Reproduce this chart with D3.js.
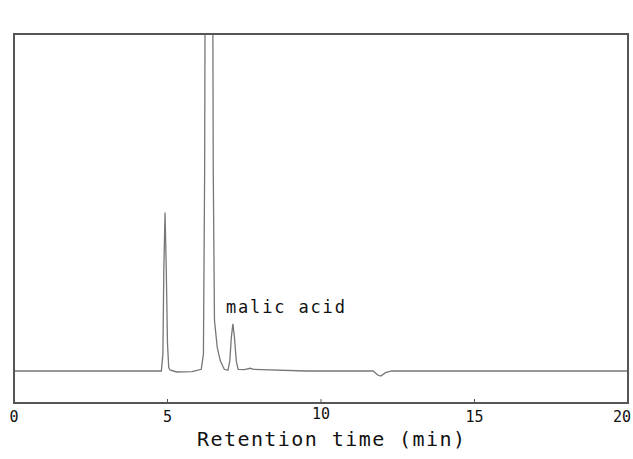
<!DOCTYPE html>
<html>
<head>
<meta charset="utf-8">
<script src="https://cdn.jsdelivr.net/npm/d3@7"></script>
<style>
  body { margin: 0; background: #fff; }
  svg { display: block; }
  .frame { fill: none; stroke: #555; stroke-width: 2; }
  .trace { fill: none; stroke: #777; stroke-width: 1.3; }
  .tick-label { font-family: "DejaVu Sans Mono", monospace; font-size: 15px; fill: #111; }
  .title { font-family: "DejaVu Sans Mono", monospace; font-size: 20px; fill: #111; }
  .peak-label { font-family: "DejaVu Sans Mono", monospace; font-size: 17px; fill: #111; }
</style>
</head>
<body>
<svg id="chart" width="633" height="459"></svg>
<script>
// retention time (min) and detector response (arbitrary units)
const times = [0, 4.80, 4.85, 4.88, 4.92, 4.96, 5.00, 5.04, 5.08, 5.30, 5.80, 6.10, 6.17, 6.21, 6.25,
  6.45, 6.49, 6.53, 6.62, 6.72, 6.85, 6.97, 7.03, 7.08, 7.13, 7.18, 7.24, 7.30, 7.50, 7.70, 7.80,
  9.50, 11.70, 11.85, 11.95, 12.10, 12.30, 20]
const response = [0, 0, 5, 30, 47, 30, 8, 1, 0.3, -0.3, -0.2, 0.5, 5, 60, 200,
  200, 60, 15, 7, 3, 0.5, 0.2, 3, 10, 14, 10, 3, 0.5, 0.4, 0.8, 0.5,
  0, 0, -1.2, -1.5, -0.5, 0, 0]
const xTicks = [0, 5, 10, 15, 20]
const peakName = 'malic acid'
const peakTime = 7.13
const axisTitle = 'Retention time (min)'

const svg = d3.select('#chart')
const box = { left: 14, right: 628, top: 34, bottom: 403 }

const x = d3.scaleLinear().domain([0, 20]).range([box.left, box.right])
const y = d3.scaleLinear().domain([-9.5, 100]).range([box.bottom, box.top])

svg.append('clipPath').attr('id', 'plot-clip')
  .append('rect')
  .attr('x', box.left).attr('y', box.top)
  .attr('width', box.right - box.left).attr('height', box.bottom - box.top)

const data = times.map((t, i) => [t, response[i]])
const line = d3.line().x(d => x(d[0])).y(d => y(d[1]))

svg.append('path')
  .datum(data)
  .attr('class', 'trace')
  .attr('clip-path', 'url(#plot-clip)')
  .attr('d', line)

svg.append('rect')
  .attr('class', 'frame')
  .attr('x', box.left).attr('y', box.top)
  .attr('width', box.right - box.left).attr('height', box.bottom - box.top)

// small inner ticks on the bottom edge
svg.selectAll('.tick-mark')
  .data(xTicks.slice(1, -1))
  .join('line')
  .attr('x1', d => x(d)).attr('x2', d => x(d))
  .attr('y1', box.bottom).attr('y2', box.bottom - 4)
  .attr('stroke', '#555').attr('stroke-width', 1)

svg.selectAll('.tick-label')
  .data(xTicks)
  .join('text')
  .attr('class', 'tick-label')
  .attr('x', d => d === 20 ? x(d) - 6 : x(d))
  .attr('y', d => d === 10 ? 419 : 422)
  .attr('text-anchor', 'middle')
  .text(d => d)

svg.append('text')
  .attr('class', 'title')
  .attr('x', (box.left + box.right) / 2 + 10)
  .attr('y', 446)
  .attr('text-anchor', 'middle')
  .attr('textLength', 268)
  .attr('lengthAdjust', 'spacing')
  .text(axisTitle)

svg.append('text')
  .attr('class', 'peak-label')
  .attr('x', x(peakTime) - 7)
  .attr('y', 313)
  .attr('textLength', 119)
  .attr('lengthAdjust', 'spacing')
  .text(peakName)
</script>
</body>
</html>
